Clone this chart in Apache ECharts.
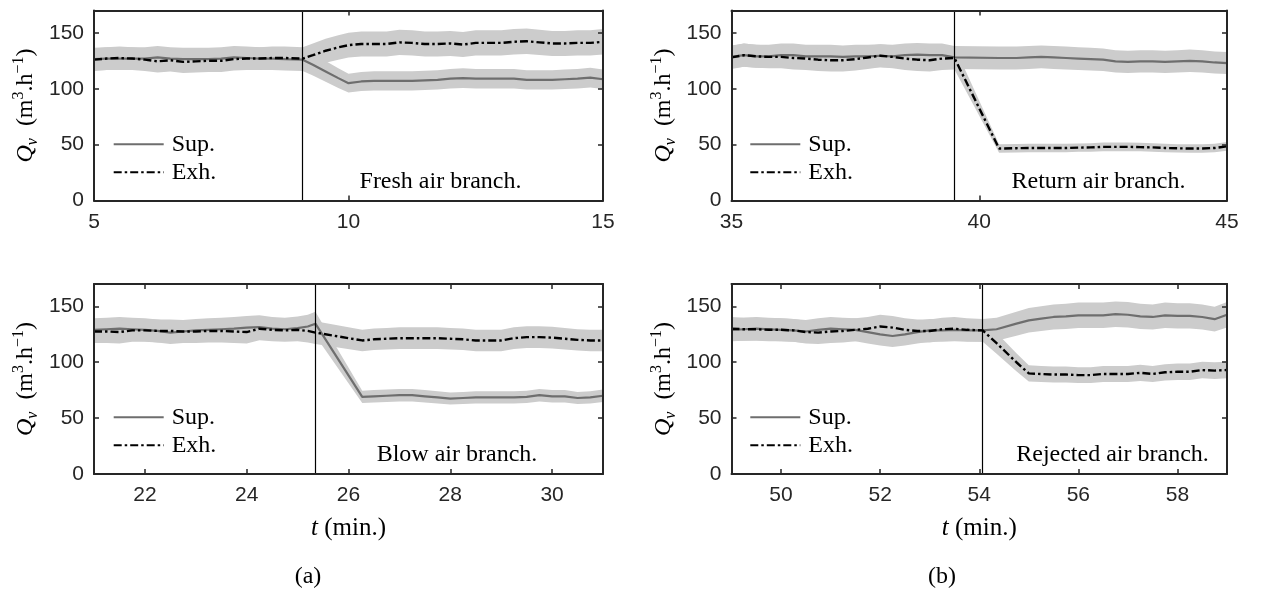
<!DOCTYPE html>
<html>
<head>
<meta charset="utf-8">
<script src="https://cdn.jsdelivr.net/npm/echarts@6.0.0/dist/echarts.min.js"></script>
<style>
html,body{margin:0;padding:0;background:#fff;}
#c{width:1262px;height:591px;}
</style>
</head>
<body>
<div id="c"></div>
<script>
// ---------- DATA ----------
// (a) top: Fresh air branch
const tFresh   = [5,5.25,5.5,5.75,6,6.25,6.5,6.75,7,7.25,7.5,7.75,8,8.25,8.5,8.75,9.1,9.3,9.55,9.8,10,10.25,10.5,10.75,11,11.25,11.5,11.75,12,12.25,12.5,12.75,13,13.25,13.5,13.75,14,14.25,14.5,14.75,15];
const supFresh = [126.5,127,127,127,127,128,127,126.5,126.5,126.5,127,128,127.5,127,127,126.5,126,121.5,115.5,109.5,105,106.5,107,107,107,107,107.5,108,109,109.5,109,109,109,109,108,108,108,108.5,109,110,108.5];
const exhFresh = [126,127,127.5,127,126,124.5,125.5,124,124.5,125,125,126.5,127,127,127.5,127.5,127,130,134,137,139,140,140,140,141.5,141,140,140,140.5,139.5,141,141,141,142,142.5,141.5,140.5,140.5,141,141,142];
const evFresh  = 9.1;

// (b) top: Return air branch
const tReturn   = [35,35.25,35.5,35.75,36,36.25,36.5,36.75,37,37.25,37.5,37.75,38,38.25,38.5,38.75,39,39.25,39.5,40.4,40.75,41,41.25,41.5,41.75,42,42.25,42.5,42.75,43,43.25,43.5,43.75,44,44.25,44.5,44.75,45];
const supReturn = [128.5,130,129,129,130,130,129,129,129,128.5,129,129,129.5,129,130,130.5,130,130,128,127.5,127.5,128,128.5,128,127.5,127,126.5,126,124.5,124,124.5,124.5,124,124.5,125,124.5,123.5,123];
const exhReturn = [128,130,129,128.5,128.5,127.5,127,126,125.5,125.5,126.5,128,129.5,128.5,127,126,125.5,127,127.5,46.5,46.8,47,47,47,47,47.3,47.5,48,48,48,47.8,47.5,47,46.7,46.5,46.5,47,48.5];
const evReturn  = 39.5;

// (a) bottom: Blow air branch
const tBlow   = [21,21.25,21.5,21.75,22,22.25,22.5,22.75,23,23.25,23.5,23.75,24,24.25,24.5,24.75,25,25.2,25.35,26.27,26.5,26.75,27,27.25,27.5,27.75,28,28.25,28.5,28.75,29,29.25,29.5,29.75,30,30.25,30.5,30.75,31];
const supBlow = [129,129.5,130,129.5,129,128,126.5,127.5,128.5,129,129.5,130,131,131.5,130,129.5,130.5,132,134.5,69,69.5,70,70.5,70.5,69.5,68.5,67.5,68,68.5,68.5,68.5,68.5,69,70.5,69.5,69.5,68,68.5,70];
const exhBlow = [127.5,127.5,127,128.5,128.5,128,128,127.5,127.5,128,128,127.5,127,130,129,128.5,129,128,126.5,119.5,120.5,121,121.5,121.5,121.5,121.5,121,120.5,119.5,119.5,119.5,121.5,122.5,122.5,122,121,120,119.5,119.5];
const evBlow  = 25.35;

// (b) bottom: Rejected air branch
const tReject   = [49,49.25,49.5,49.75,50,50.25,50.5,50.75,51,51.25,51.5,51.75,52,52.25,52.5,52.75,53,53.25,53.5,53.75,54.07,54.35,54.75,55,55.25,55.5,55.75,56,56.25,56.5,56.75,57,57.25,57.5,57.75,58,58.25,58.5,58.75,59];
const supReject = [129,129.5,130,129.5,129,128.5,127.5,129,130,129.5,129,127,125,123.5,125,127,128.5,128.5,129,128.5,128.5,129.5,134.5,137.5,139,140.5,141,142,142,142,143,142.5,141,140.5,142,141.5,141.5,140.5,138.5,142.5];
const exhReject = [130,129.5,129.5,129,129,128.5,127,126.5,127.5,128,129,130,132,131,129,128,128,129.5,130,129,128.5,117,100,90,89.5,89,89,88.5,88.5,89.5,89.5,89.5,90.5,89.5,91,91.5,91.5,93,92.5,93];
const evReject  = 54.07;

// tick labels
const ticksFresh  = [5,10,15];
const ticksReturn = [35,40,45];
const ticksBlow   = [22,24,26,28,30];
const ticksReject = [50,52,54,56,58];
const ticksQ      = [0,50,100,150];
const seriesNames = ['Sup.','Exh.'];
const notes = ['Fresh air branch.','Return air branch.','Blow air branch.','Rejected air branch.'];
const subLabels = ['(a)','(b)'];
const REL_UNC = 0.08; // relative measurement uncertainty shown as grey band

// ---------- LAYOUT ----------
const panels = [
  {t:tFresh,  sup:supFresh,  exh:exhFresh,  ev:evFresh,  min:5,  max:15, ticks:ticksFresh,  note:notes[0],
   grid:{left:94,   top:10.5, width:509,   height:190}, leg:{left:112.7, top:132.3}, nx:440.5, ny:182, xname:false},
  {t:tReturn, sup:supReturn, exh:exhReturn, ev:evReturn, min:35, max:45, ticks:ticksReturn, note:notes[1],
   grid:{left:731.5,top:10.5, width:495.5, height:190}, leg:{left:749.3, top:132.3}, nx:1098.5, ny:182, xname:false},
  {t:tBlow,   sup:supBlow,   exh:exhBlow,   ev:evBlow,   min:21, max:31, ticks:ticksBlow,   note:notes[2],
   grid:{left:94,   top:284,  width:509,   height:190}, leg:{left:112.7, top:405.3}, nx:457, ny:455, xname:true},
  {t:tReject, sup:supReject, exh:exhReject, ev:evReject, min:49, max:59, ticks:ticksReject, note:notes[3],
   grid:{left:731.5,top:284,  width:495.5, height:190}, leg:{left:749.3, top:405.3}, nx:1112.5, ny:455, xname:true}
];

const AX = '#262626';
const SANS = '"Liberation Sans", Arial, Helvetica, sans-serif';
const SERIF = '"Liberation Serif", "Times New Roman", serif';
const SUPC = '#6e6e6e';
const BAND = '#cccccc';

const grids = [], xAxes = [], yAxes = [], series = [], legends = [], graphics = [];

const axisLine = {show:true, onZero:false, lineStyle:{color:AX, width:2}};
function tick(vals){ return {show:true, inside:true, length:5, customValues:vals, lineStyle:{color:AX, width:1.5}}; }

const yName = '{q|Q}{s|v}{n|  (m}{p|3}{n|.h}{p|−1}{n|)}';
const yRich = {
  q:{fontFamily:SERIF, fontSize:24, fontStyle:'italic', color:'#000', lineHeight:30},
  s:{fontFamily:SERIF, fontSize:16, fontStyle:'italic', color:'#000', lineHeight:14, verticalAlign:'bottom'},
  n:{fontFamily:SERIF, fontSize:24, color:'#000', lineHeight:30},
  p:{fontFamily:SERIF, fontSize:16, color:'#000', lineHeight:16, verticalAlign:'top'}
};
const xName = '{i|t}{n| (min.)}';
const xRich = {
  i:{fontFamily:SERIF, fontSize:25, fontStyle:'italic', color:'#000', lineHeight:26},
  n:{fontFamily:SERIF, fontSize:25, color:'#000', lineHeight:26}
};

// grey uncertainty band drawn as one polygon through the axis scales
function bandRender(params, api) {
  if (params.dataIndexInside !== 0) return null;
  const n = params.dataInsideLength;
  const up = [], lo = [];
  for (let k = 0; k < n; k++) {
    up.push(api.coord([api.value(0, k), api.value(2, k)]));
    lo.push(api.coord([api.value(0, k), api.value(1, k)]));
  }
  return {type:'polygon', silent:true, shape:{points:up.concat(lo.reverse())}, style:{fill:BAND, stroke:null}};
}

panels.forEach((p, i) => {
  grids.push(Object.assign({containLabel:false}, p.grid));
  const xb = {
    type:'value', gridIndex:i, min:p.min, max:p.max, position:'bottom', z:10,
    axisLine, axisTick:tick(p.ticks), splitLine:{show:false},
    axisLabel:{customValues:p.ticks, margin:11, fontFamily:SANS, fontSize:21, color:AX}
  };
  if (p.xname) {
    Object.assign(xb, {name:xName, nameLocation:'middle', nameGap:41, nameTextStyle:{rich:xRich}});
  }
  xAxes.push(xb);
  xAxes.push({type:'value', gridIndex:i, min:p.min, max:p.max, position:'top', z:10,
    axisLine, axisTick:tick(p.ticks), axisLabel:{show:false}, splitLine:{show:false}});
  const xi = xAxes.length - 2;
  yAxes.push({type:'value', gridIndex:i, min:0, max:170, position:'left', z:10,
    axisLine, axisTick:tick(ticksQ), splitLine:{show:false},
    axisLabel:{customValues:ticksQ, margin:10, fontFamily:SANS, fontSize:21, color:AX},
    name:yName, nameLocation:'middle', nameRotate:90, nameGap:53, nameTextStyle:{rich:yRich}});
  yAxes.push({type:'value', gridIndex:i, min:0, max:170, position:'right', z:10,
    axisLine, axisTick:tick(ticksQ), axisLabel:{show:false}, splitLine:{show:false}});
  const yi = yAxes.length - 2;

  [p.sup, p.exh].forEach(vals => {
    series.push({type:'custom', name:'band', xAxisIndex:xi, yAxisIndex:yi, silent:true, z:1,
      encode:{x:0, y:[1,2]}, renderItem:bandRender,
      data:p.t.map((t, j) => [t, vals[j] * (1 - REL_UNC), vals[j] * (1 + REL_UNC)])});
  });
  series.push({type:'line', name:seriesNames[0], xAxisIndex:xi, yAxisIndex:yi, symbol:'none', z:3,
    lineStyle:{color:SUPC, width:2.2}, itemStyle:{color:SUPC},
    data:p.t.map((t, j) => [t, p.sup[j]]),
    markLine:{silent:true, symbol:['none','none'], label:{show:false}, animation:false,
      lineStyle:{color:'#000', width:1.2, type:'solid'}, data:[{xAxis:p.ev}]}});
  series.push({type:'line', name:seriesNames[1], xAxisIndex:xi, yAxisIndex:yi, symbol:'none', z:4,
    lineStyle:{color:'#000', width:2.4, type:[8,3,2.5,3]}, itemStyle:{color:'#000'},
    data:p.t.map((t, j) => [t, p.exh[j]])});

  legends.push({data:seriesNames, orient:'vertical', left:p.leg.left, top:p.leg.top, padding:0,
    itemGap:4, itemWidth:50, itemHeight:14, selectedMode:false,
    itemStyle:{opacity:0},
    textStyle:{fontFamily:SERIF, fontSize:24, color:'#000', lineHeight:24, padding:[0,0,0,3]}});

  graphics.push({type:'text', silent:true, z:20, style:{text:p.note, x:p.nx, y:p.ny,
    font:'24px ' + SERIF, fill:'#000', align:'center', verticalAlign:'middle'}});
});

graphics.push({type:'text', silent:true, style:{text:subLabels[0], x:308, y:577,
  font:'24px ' + SERIF, fill:'#000', align:'center', verticalAlign:'middle'}});
graphics.push({type:'text', silent:true, style:{text:subLabels[1], x:942, y:577,
  font:'24px ' + SERIF, fill:'#000', align:'center', verticalAlign:'middle'}});

const chart = echarts.init(document.getElementById('c'), null, {renderer:'canvas'});
chart.setOption({
  animation:false,
  backgroundColor:'#fff',
  grid:grids, xAxis:xAxes, yAxis:yAxes, series, legend:legends, graphic:graphics
});
</script>
</body>
</html>
